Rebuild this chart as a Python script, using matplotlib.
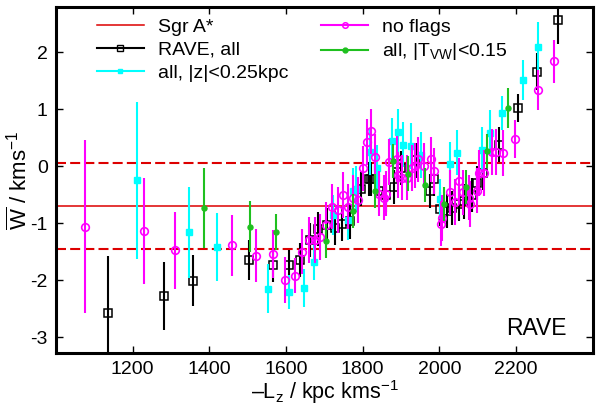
import matplotlib
matplotlib.use("Agg")
import matplotlib.pyplot as plt
from matplotlib.lines import Line2D

plt.rcParams['font.family'] = ['Liberation Sans', 'DejaVu Sans']
plt.rcParams['mathtext.fontset'] = 'custom'
plt.rcParams['mathtext.rm'] = 'Liberation Sans'
plt.rcParams['mathtext.it'] = 'Liberation Sans'
plt.rcParams['mathtext.default'] = 'regular'
plt.rcParams['axes.unicode_minus'] = False

# Sgr A* reference level and its band
sgr_mean = -0.70
sgr_upper = 0.06
sgr_lower = -1.46

# RAVE, all
rave_x = [1135, 1281, 1358, 1503, 1565, 1607, 1637, 1662, 1683, 1708, 1729, 1747, 1766,
          1796, 1816, 1823, 1843, 1860, 1881, 1889, 1901, 1940, 1976, 1985, 2001,
          2020, 2033, 2050, 2065, 2085, 2098, 2113, 2156, 2204, 2255, 2309]
rave_y = [-2.58, -2.28, -2.01, -1.64, -1.74, -1.74, -1.64, -1.30, -1.10, -1.04, -1.08, -1.02, -0.97,
          -0.40, -0.23, -0.22, -0.44, -0.50, -0.37, 0.03, -0.03, 0.10, -0.43, -0.22, -0.75,
          -0.78, -0.73, -0.66, -0.62, -0.51, -0.29, -0.12, 0.38, 1.02, 1.66, 2.57]
rave_e = [1.00, 0.60, 0.45, 0.35, 0.30, 0.27, 0.30, 0.30, 0.30, 0.30, 0.30, 0.30, 0.30,
          0.30, 0.30, 0.30, 0.30, 0.30, 0.30, 0.30, 0.30, 0.30, 0.30, 0.30, 0.30,
          0.30, 0.30, 0.30, 0.30, 0.30, 0.30, 0.30, 0.30, 0.24, 0.33, 0.42]

# all, |z|<0.25kpc
z_x = [1211, 1347, 1419, 1553, 1609, 1646, 1673, 1722, 1763, 1776, 1783, 1820, 1838,
       1877, 1891, 1904, 1926, 1952, 2003, 2029, 2046, 2111, 2131, 2163, 2218, 2258]
z_y = [-0.25, -1.16, -1.42, -2.15, -2.21, -2.14, -1.69, -0.85, -0.95, -0.43, -0.40, 0.25, -0.03,
       0.45, 0.60, 0.38, 0.35, 0.20, -0.57, 0.03, 0.24, 0.28, 0.58, 0.93, 1.52, 2.10]
z_e = [1.38, 0.80, 0.60, 0.43, 0.30, 0.33, 0.30, 0.35, 0.35, 0.40, 0.40, 0.40, 0.40,
       0.40, 0.40, 0.40, 0.40, 0.40, 0.35, 0.40, 0.40, 0.40, 0.40, 0.30, 0.35, 0.44]

# no flags
nf_x = [1076, 1230, 1310, 1460, 1522, 1565, 1597, 1623, 1642, 1659, 1675, 1689, 1705,
        1721, 1736, 1749, 1763, 1776, 1788, 1800, 1811, 1822, 1833, 1843, 1855, 1862,
        1868, 1889, 1893, 1903, 1916, 1929, 1937, 1944, 1959, 1978, 1985, 2004, 2008,
        2029, 2042, 2050, 2063, 2077, 2081, 2097, 2104, 2117, 2138, 2149, 2165, 2198,
        2258, 2298]
nf_y = [-1.06, -1.13, -1.48, -1.39, -1.57, -1.54, -2.00, -1.92, -1.50, -1.30, -1.30, -1.24, -1.03,
        -0.71, -0.77, -0.51, -0.71, -0.55, -0.59, -0.04, 0.42, 0.61, 0.16, -0.48, -0.55, -0.48,
        0.07, 0.13, -0.15, -0.20, -0.20, -0.03, 0.01, 0.12, 0.01, 0.12, -0.08, -1.01, -0.91,
        -0.46, -0.63, -0.26, -0.46, -0.55, -0.66, -0.43, -0.12, -0.12, 0.25, 0.25, 0.23, 0.48,
        1.33, 1.84]
nf_e = [1.52, 0.93, 0.68, 0.53, 0.47, 0.42, 0.40, 0.30, 0.40, 0.40, 0.40, 0.40, 0.40,
        0.40, 0.40, 0.40, 0.40, 0.40, 0.40, 0.40, 0.40, 0.40, 0.40, 0.40, 0.40, 0.40,
        0.40, 0.40, 0.40, 0.40, 0.40, 0.40, 0.40, 0.40, 0.40, 0.40, 0.40, 0.40, 0.40,
        0.40, 0.40, 0.40, 0.40, 0.40, 0.40, 0.40, 0.40, 0.40, 0.40, 0.40, 0.40, 0.33,
        0.35, 0.38]

# all, |T_VW|<0.15
tvw_x = [1385, 1506, 1574, 1705, 1774, 1832, 1878, 1918, 1963, 2011, 2070, 2125, 2178]
tvw_y = [-0.73, -1.06, -1.16, -1.32, -0.79, -0.44, 0.09, -0.13, -0.33, -0.66, -0.36, 0.26, 1.02]
tvw_e = [0.70, 0.45, 0.32, 0.30, 0.30, 0.30, 0.30, 0.30, 0.30, 0.30, 0.30, 0.30, 0.35]

xticks = [1200, 1400, 1600, 1800, 2000, 2200]
yticks = [-3, -2, -1, 0, 1, 2]

fig = plt.figure(figsize=(5.98, 4.08), dpi=100)
ax = fig.add_axes([0.0936, 0.1348, 0.8975, 0.8488])

red = '#dd0000'
green = '#1fc01f'
ax.axhline(sgr_mean, color=red, lw=1.1, zorder=1)
ax.axhline(sgr_upper, color=red, lw=1.5, ls=(0, (4.8, 2.0)), zorder=1)
ax.axhline(sgr_lower, color=red, lw=1.5, ls=(0, (4.8, 2.0)), zorder=1)

ax.errorbar(rave_x, rave_y, yerr=rave_e, fmt='s', color='black', mfc='none', mec='black',
            ms=5.3, mew=1.1, elinewidth=1.5, capsize=0, zorder=2)
ax.errorbar(z_x, z_y, yerr=z_e, fmt='s', color='cyan', mfc='cyan', mec='cyan',
            ms=4.0, elinewidth=1.5, capsize=0, zorder=3)
ax.errorbar(nf_x, nf_y, yerr=nf_e, fmt='o', color='magenta', mfc='none', mec='magenta',
            ms=5.5, mew=1.2, elinewidth=1.5, capsize=0, zorder=4)
ax.errorbar(tvw_x, tvw_y, yerr=tvw_e, fmt='o', color=green, mfc=green, mec=green,
            ms=3.6, elinewidth=1.5, capsize=0, zorder=5)

ax.set_xlim(1000, 2400)
ax.set_ylim(-3.28, 2.8)
ax.set_xticks(xticks)
ax.set_yticks(yticks)
ax.tick_params(direction='in', length=5, width=1, top=True, right=True, labelsize=14)
ax.tick_params(axis='x', pad=6)
ax.tick_params(axis='y', pad=6)
for s in ax.spines.values():
    s.set_linewidth(2.2)

ax.set_xlabel('\u2013' + r'L$_z$ / kpc kms$^{-1}$', fontsize=15.5, labelpad=0)
ax.set_ylabel(r'$\overline{W}$ / kms$^{-1}$', fontsize=16, labelpad=-1)

ax.text(0.952, 0.052, 'RAVE', transform=ax.transAxes, ha='right', va='baseline', fontsize=16.5)

handles = [
    Line2D([], [], color=red, lw=1.1),
    Line2D([], [], color='black', marker='s', mfc='none', ms=3.8, mew=1.0, lw=1.5),
    Line2D([], [], color='cyan', marker='s', ms=3.5, lw=1.5),
    Line2D([], [], color='magenta', marker='o', mfc='none', ms=4, mew=1.1, lw=1.5),
    Line2D([], [], color=green, marker='o', ms=3.5, lw=1.5),
]
labels = ['Sgr A*', 'RAVE, all', 'all, |z|<0.25kpc', 'no flags', r'all, |T$_{VW}$|<0.15']
ax.legend(handles, labels, ncol=2, loc='upper left', bbox_to_anchor=(0.0758, 0.966),
          frameon=False, fontsize=14, handlelength=2.42, handletextpad=0.72,
          columnspacing=1.7, labelspacing=0.27, borderaxespad=0, borderpad=0)

fig.savefig('out.png', dpi=100)
